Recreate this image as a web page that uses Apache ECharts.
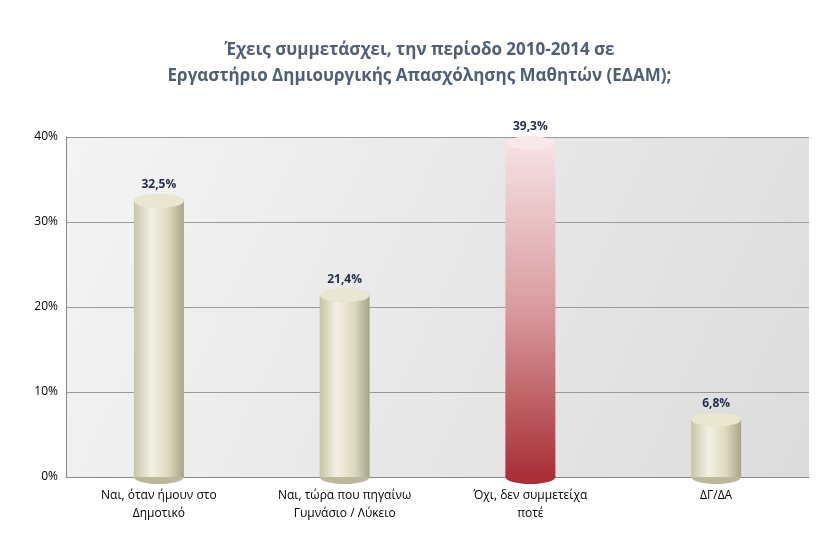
<!DOCTYPE html>
<html><head><meta charset="utf-8">
<script src="https://cdn.jsdelivr.net/npm/echarts@6/dist/echarts.min.js"></script>
<style>html,body{margin:0;background:#fff}#c{width:839px;height:545px}</style>
</head><body><div id="c"></div>
<script>
const categories = ['Ναι, όταν ήμουν στο\nΔημοτικό', 'Ναι, τώρα που πηγαίνω\nΓυμνάσιο / Λύκειο', 'Όχι, δεν συμμετείχα\nποτέ', 'ΔΓ/ΔΑ'];
const values = [32.5, 21.4, 39.3, 6.8];
const yTicks = [0, 10, 20, 30, 40];

const beige = {type:'linear',x:0,y:0,x2:1,y2:0,colorStops:[{offset:0,color:'#c9c4a6'},{offset:0.35,color:'#f3f1e4'},{offset:0.7,color:'#ddd8bd'},{offset:1,color:'#a9a386'}]};
const red = {type:'linear',x:0,y:0,x2:0,y2:1,colorStops:[{offset:0,color:'#f6e2e4'},{offset:0.5,color:'#d99a9e'},{offset:1,color:'#a83036'}]};
const colorFor = i => i === 2 ? red : beige;
const topFor = i => i === 2 ? '#f8e8ea' : '#e9e6d2';

const chart = echarts.init(document.getElementById('c'));
chart.setOption({
  animation:false,
  title:{text:'Έχεις συμμετάσχει, την περίοδο 2010-2014 σε\nΕργαστήριο Δημιουργικής Απασχόλησης Μαθητών (ΕΔΑΜ);',left:'center',top:32,
    textStyle:{fontFamily:'Open Sans',fontSize:17,fontWeight:'bold',color:'#4f5f78',lineHeight:26}},
  grid:{left:66,right:30,top:137,bottom:68,backgroundColor:{type:'linear',x:0,y:0,x2:1,y2:1,colorStops:[{offset:0,color:'#f4f4f4'},{offset:1,color:'#dcdcdc'}]},show:true,borderWidth:0},
  xAxis:{type:'category',data:categories,axisTick:{show:false},axisLine:{lineStyle:{color:'#888'}},
    axisLabel:{fontFamily:'Open Sans',fontSize:12,color:'#000',lineHeight:18,margin:10}},
  yAxis:{type:'value',min:0,max:40,interval:10,
    axisLabel:{formatter:v=>yTicks.includes(v)?v+'%':'',fontFamily:'Open Sans',fontSize:12,color:'#000'},
    splitLine:{lineStyle:{color:'#9a9a9a'}},axisLine:{show:true,lineStyle:{color:'#888'}}},
  series:[
    {type:'bar',barWidth:50,data:values.map((v,i)=>({value:v,itemStyle:{color:colorFor(i)}})),
     label:{show:true,position:'top',distance:10,formatter:p=>p.value.toFixed(1).replace('.',',')+'%',fontFamily:'Open Sans',fontWeight:'bold',fontSize:12,color:'#1f2d4d'},z:2},
    {type:'pictorialBar',symbol:'circle',symbolSize:[50,14],symbolPosition:'end',symbolOffset:[0,'-50%'],
     data:values.map((v,i)=>({value:v,itemStyle:{color:topFor(i),borderColor:i===2?'#c98a8f':'#bdb89c',borderWidth:1}})),z:3},
    {type:'pictorialBar',symbol:'circle',symbolSize:[50,14],symbolPosition:'start',symbolOffset:[0,'50%'],
     data:values.map((v,i)=>({value:v,itemStyle:{color:i===2?'#a83036':'#bdb89c'}})),z:1}
  ]
});
</script></body></html>
